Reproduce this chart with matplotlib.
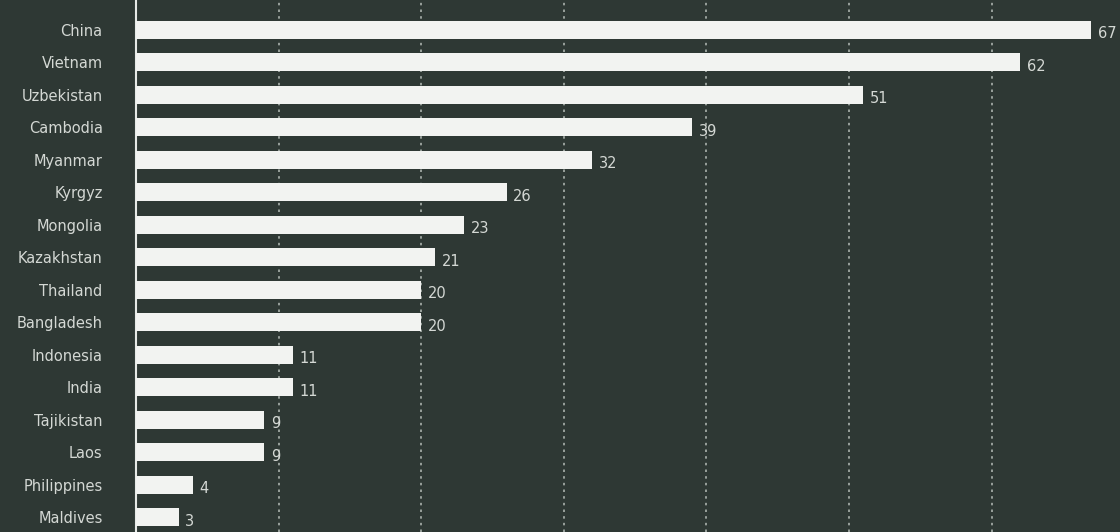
import matplotlib
matplotlib.use("Agg")
import matplotlib.pyplot as plt

countries = ["China", "Vietnam", "Uzbekistan", "Cambodia", "Myanmar", "Kyrgyz",
             "Mongolia", "Kazakhstan", "Thailand", "Bangladesh", "Indonesia",
             "India", "Tajikistan", "Laos", "Philippines", "Maldives"]
values = [67, 62, 51, 39, 32, 26, 23, 21, 20, 20, 11, 11, 9, 9, 4, 3]

bg = "#2e3834"
barColor = "#f2f3f1"
textColor = "#d4d8d4"

fig = plt.figure(figsize=(11.2, 5.32), dpi=100, facecolor=bg)
ax = fig.add_axes([0.1214, 0, 0.8786, 1])
ax.set_facecolor(bg)

pos = list(range(len(countries)))
ax.barh(pos, values, height=0.56, color=barColor, zorder=3)
for i, v in enumerate(values):
    ax.text(v + 0.45, i + 0.12, str(v), color=textColor, fontsize=10.5,
            va="center", ha="left", zorder=4)

ax.set_xlim(0, 69)
ax.set_ylim(15.45, -0.92)
ax.set_yticks(pos)
ax.set_yticklabels(countries, color=textColor, fontsize=10.5)
ax.tick_params(axis="y", length=0, pad=24)
ax.set_xticks([10, 20, 30, 40, 50, 60])
ax.tick_params(axis="x", length=0, labelbottom=False)
ax.grid(True, axis="x", linestyle=(0, (1.5, 2.5)), color="#aab2ad", linewidth=1.2, zorder=1)
for s in ["top", "right", "bottom"]:
    ax.spines[s].set_visible(False)
ax.spines["left"].set_color("#e6e9e6")
ax.spines["left"].set_linewidth(1.5)

fig.savefig("out.png", dpi=100, facecolor=bg)
